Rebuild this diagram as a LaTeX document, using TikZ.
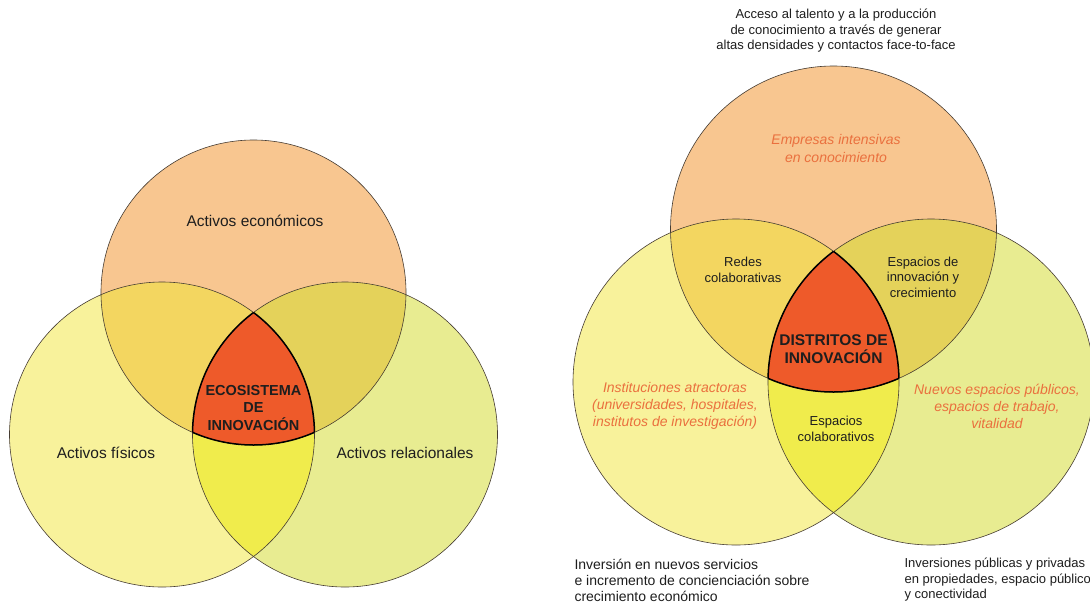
\documentclass[tikz,border=0pt]{standalone}
\usepackage{fontspec}
\setmainfont{Liberation Sans}

\definecolor{econ}{RGB}{248,198,144}
\definecolor{fisico}{RGB}{248,242,155}
\definecolor{relac}{RGB}{232,236,145}
\definecolor{econfis}{RGB}{243,214,96}
\definecolor{econrel}{RGB}{228,210,90}
\definecolor{fisrel}{RGB}{240,236,76}
\definecolor{nucleo}{RGB}{238,90,42}
\definecolor{cursiva}{RGB}{234,112,62}
\definecolor{trazo}{RGB}{70,60,50}
\definecolor{texto}{RGB}{30,30,30}

% fills and outlines of one three-circle diagram: #1 top, #2 left, #3 right, #4 radius
\newcommand{\vennfill}[4]{%
  \fill[econ] (#1) circle [radius=#4];
  \fill[fisico] (#2) circle [radius=#4];
  \fill[relac] (#3) circle [radius=#4];
  \begin{scope}
    \clip (#1) circle [radius=#4];
    \fill[econfis] (#2) circle [radius=#4];
    \fill[econrel] (#3) circle [radius=#4];
  \end{scope}
  \begin{scope}
    \clip (#2) circle [radius=#4];
    \fill[fisrel] (#3) circle [radius=#4];
    \clip (#3) circle [radius=#4];
    \fill[nucleo] (#1) circle [radius=#4];
  \end{scope}
  \draw[circ] (#1) circle [radius=#4];
  \draw[circ] (#2) circle [radius=#4];
  \draw[circ] (#3) circle [radius=#4];
  % thick edge round the centre
  \begin{scope}
    \clip (#2) circle [radius=#4];
    \clip (#3) circle [radius=#4];
    \draw[edge] (#1) circle [radius=#4];
  \end{scope}
  \begin{scope}
    \clip (#1) circle [radius=#4];
    \clip (#3) circle [radius=#4];
    \draw[edge] (#2) circle [radius=#4];
  \end{scope}
  \begin{scope}
    \clip (#1) circle [radius=#4];
    \clip (#2) circle [radius=#4];
    \draw[edge] (#3) circle [radius=#4];
  \end{scope}
}

\begin{document}
\begin{tikzpicture}[x=1pt, y=-1pt,
  circ/.style={draw=trazo, line width=0.6pt},
  edge/.style={draw=black, line width=1.5pt},
  big/.style={text=texto, align=center, font=\fontsize{15.5}{19}\selectfont},
  small/.style={text=texto, align=center, font=\fontsize{13}{15.5}\selectfont},
  ital/.style={text=cursiva, align=center, font=\fontsize{14}{17}\selectfont\itshape},
  core/.style={text=texto, align=center, font=\fontsize{14.5}{17.5}\selectfont\bfseries},
  foot/.style={text=texto, align=left, anchor=west}]
\useasboundingbox (0,0) rectangle (1090,603);
\clip (0,0) rectangle (1090,603);
\fill[white] (0,0) rectangle (1090,603);
% Left diagram
\coordinate (ecoTop) at (253.5,292.5);
\coordinate (ecoLeft) at (162,434.5);
\coordinate (ecoRight) at (345,434.5);
\vennfill{ecoTop}{ecoLeft}{ecoRight}{152.5}
\node[big] (econ) at (255,221) {Activos económicos};
\node[big] (fis) at (106,453) {Activos físicos};
\node[big] (rel) at (405,453) {Activos relacionales};
\node[core] (eco) at (253.5,408) {ECOSISTEMA\\DE\\INNOVACIÓN};
% Right diagram
\coordinate (disTop) at (833.5,229);
\coordinate (disLeft) at (736,382);
\coordinate (disRight) at (931,382);
\vennfill{disTop}{disLeft}{disRight}{163}
\node[small] (acceso) at (836,31) {Acceso al talento y a la producción\\de conocimiento a través de generar\\altas densidades y contactos face-to-face};
\node[ital, font=\fontsize{14}{18}\selectfont\itshape] (empresas) at (836,148) {Empresas intensivas\\en conocimiento};
\node[small] (redes) at (743,270) {Redes\\colaborativas};
\node[small] (innov) at (923,277) {Espacios de\\innovación y\\crecimiento};
\node[core, font=\fontsize{15.5}{18}\selectfont\bfseries] (dist) at (833.5,349) {DISTRITOS DE\\INNOVACIÓN};
\node[ital] (inst) at (675,406) {Instituciones atractoras\\(universidades, hospitales,\\institutos de investigación)};
\node[ital] (nuevos) at (997,406) {Nuevos espacios públicos,\\espacios de trabajo,\\vitalidad};
\node[small] (colab) at (836,429) {Espacios\\colaborativos};
\node[foot, font=\fontsize{14}{16}\selectfont] (servicios) at (571,580) {Inversión en nuevos servicios\\e incremento de concienciación sobre\\crecimiento económico};
\node[foot, font=\fontsize{13}{15.5}\selectfont] (inversion) at (901,580) {Inversiones públicas y privadas\\en propiedades, espacio público\\y conectividad};
\end{tikzpicture}
\end{document}
